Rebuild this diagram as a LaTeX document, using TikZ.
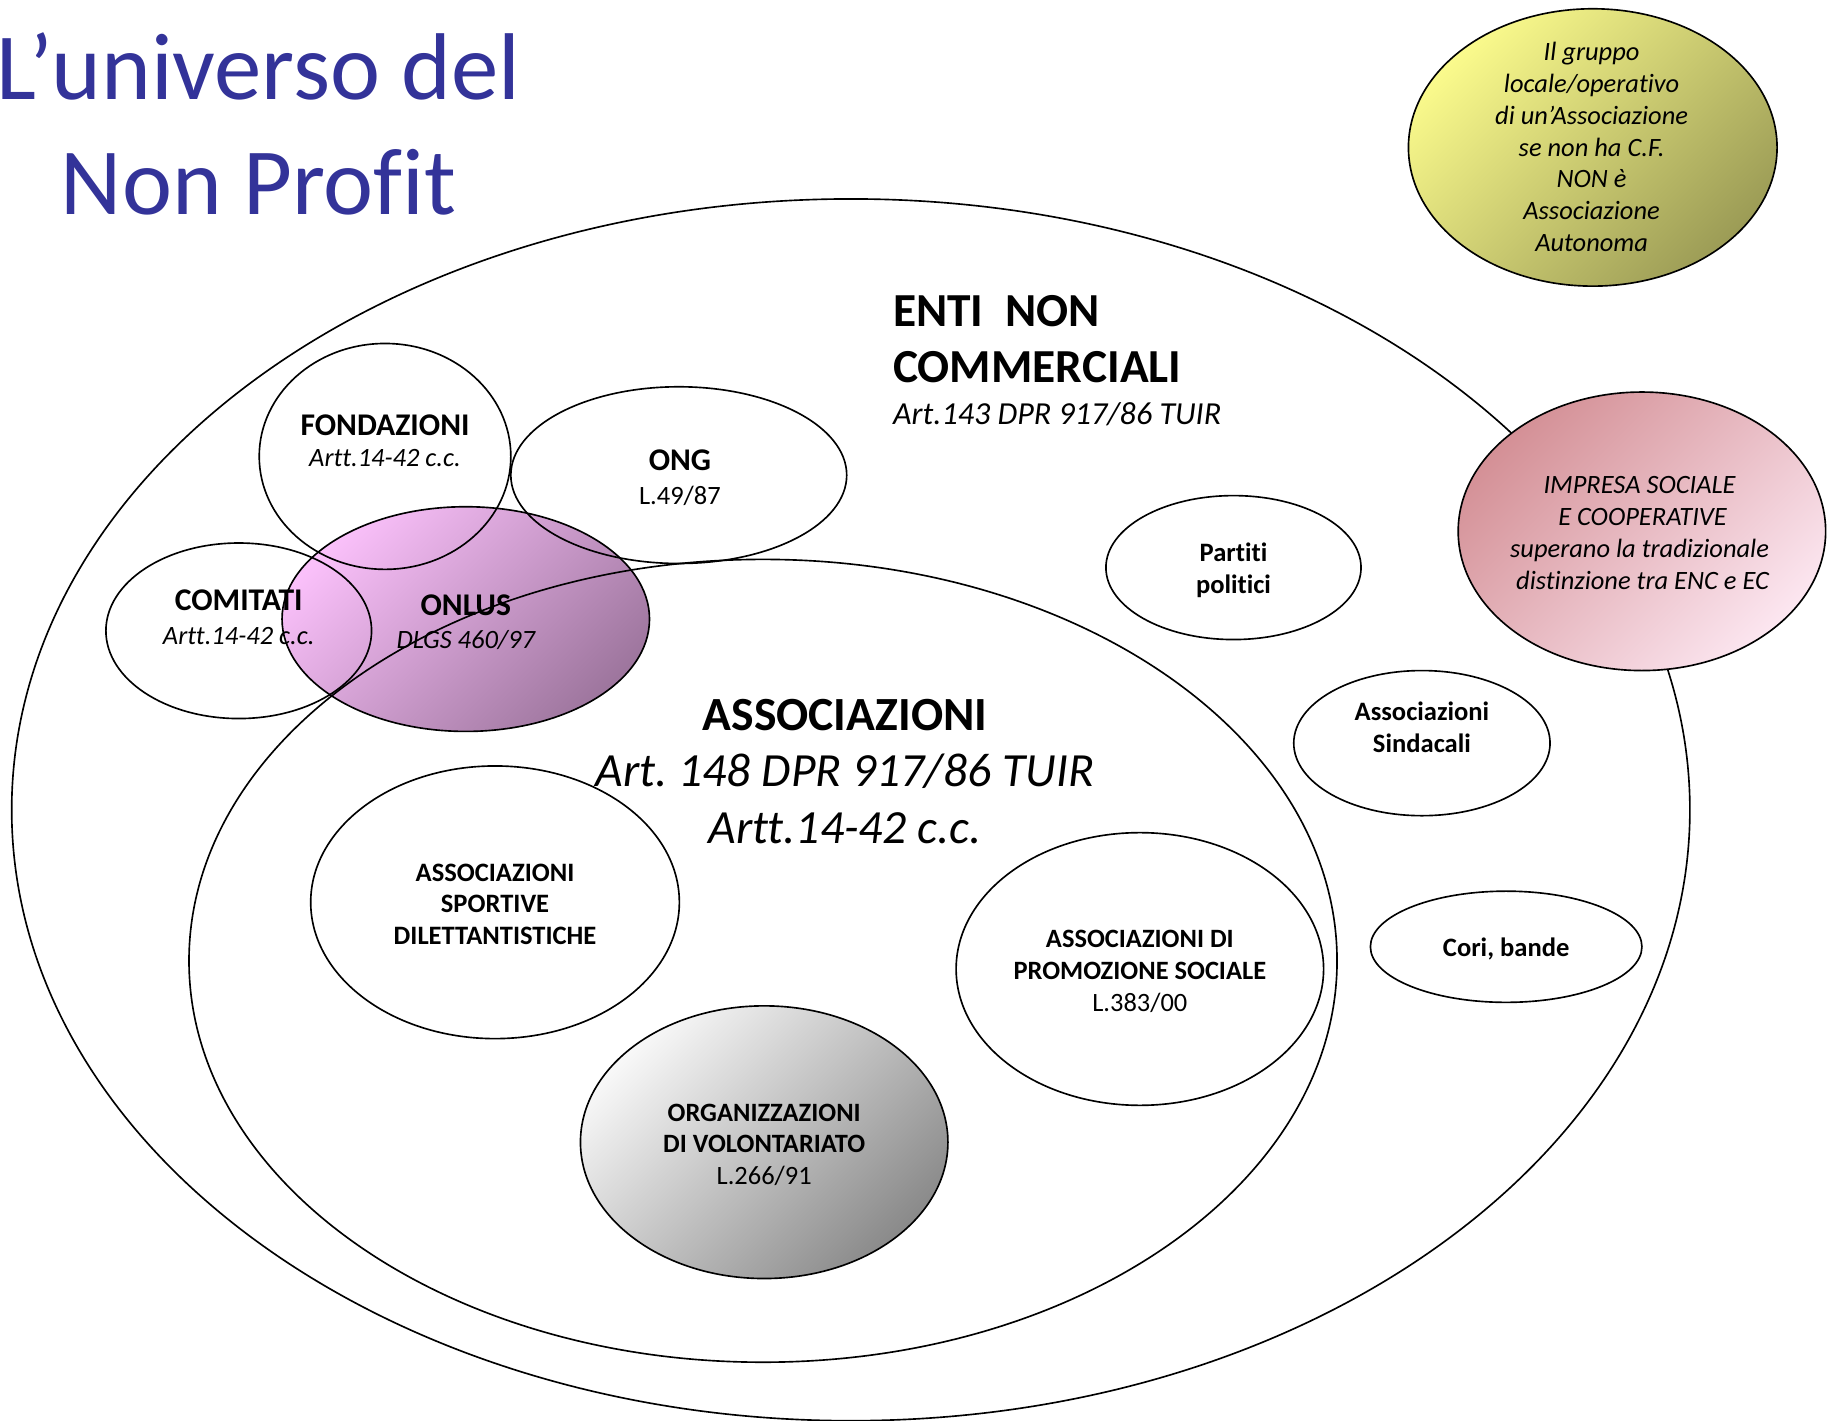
\documentclass[tikz,border=0pt]{standalone}
\usepackage{fontspec}
\setmainfont{Carlito}[Ligatures={NoCommon}]
\usetikzlibrary{shapes.geometric}
\definecolor{titleblue}{RGB}{51,51,153}
\definecolor{onlusA}{RGB}{250,192,250}
\definecolor{onlusB}{RGB}{158,118,158}
\definecolor{impA}{RGB}{212,144,150}
\definecolor{impB}{RGB}{252,230,240}
\definecolor{yelA}{RGB}{250,250,140}
\definecolor{yelB}{RGB}{156,156,86}
\definecolor{grayA}{RGB}{248,248,248}
\definecolor{grayB}{RGB}{138,138,138}
\frenchspacing
\begin{document}
\begin{tikzpicture}[x=1pt,y=-1pt,
  oval/.style={ellipse, inner sep=0pt, outer sep=0pt, line width=1.4pt},
  ringline/.style={oval, draw=black},
  bigbold/.style={font=\fontsize{40.5}{49}\selectfont\bfseries, inner sep=0pt, anchor=base west},
  bigital/.style={font=\fontsize{27.4}{33}\selectfont\itshape, inner sep=0pt, anchor=base west},
  assoctext/.style={font=\fontsize{40.7}{48}\selectfont, inner sep=0pt, anchor=base},
  lab/.style={font=\fontsize{22.6}{27}\selectfont, align=center, inner sep=0pt, anchor=base},
  labbold/.style={lab, font=\fontsize{22.7}{27}\selectfont\bfseries},
  labhead/.style={font=\fontsize{27}{27}\selectfont\bfseries, inner sep=0pt, anchor=base},
  labsub/.style={font=\fontsize{22.6}{27}\selectfont, inner sep=0pt, anchor=base},
  titletext/.style={font=\fontsize{81}{98}\selectfont, text=titleblue, inner sep=0pt, anchor=base}
]
\useasboundingbox (0,0) rectangle (1568,1214);
\fill[white] (0,0) rectangle (1568,1214);

% ONLUS fill (below outlines)
\node[oval, minimum width=314pt, minimum height=192pt, top color=onlusA, bottom color=onlusB, shading angle=45] (onlusfill) at (398,529) {};

% outlines
\node[ringline, minimum width=1434pt, minimum height=1044pt] (enc) at (727,692) {};
\node[ringline, minimum width=981pt, minimum height=686pt] (assoc) at (652,821) {};
\node[ringline, minimum width=215pt, minimum height=193pt] (fond) at (329,390) {};
\node[ringline, minimum width=287pt, minimum height=151pt] (ong) at (580,406) {};
\node[ringline, minimum width=227pt, minimum height=150pt] (comit) at (204,539) {};
\node[ringline, minimum width=314pt, minimum height=192pt] (onlus) at (398,529) {};
\node[ringline, minimum width=218pt, minimum height=123pt] (partiti) at (1054,485) {};
\node[ringline, minimum width=219pt, minimum height=124pt] (sind) at (1215,635) {};
\node[ringline, minimum width=232pt, minimum height=95pt] (cori) at (1287,809) {};
\node[ringline, minimum width=315pt, minimum height=233pt] (sport) at (423,771) {};
\node[ringline, minimum width=314pt, minimum height=233pt] (promo) at (974,828) {};

% filled ellipses on top
\node[oval, draw=black, minimum width=314pt, minimum height=233pt, top color=grayA, bottom color=grayB, shading angle=45] (volont) at (653,976) {};
\node[oval, draw=black, minimum width=314pt, minimum height=238pt, top color=impA, bottom color=impB, shading angle=45] (impresa) at (1403,454) {};
\node[oval, draw=black, minimum width=315pt, minimum height=237pt, top color=yelA, bottom color=yelB, shading angle=45] (gruppo) at (1361,126) {};

% title
\node[titletext] (title1) at (221,85) {L’universo del};
\node[titletext] (title2) at (221,183) {Non Profit};

% ENTI NON COMMERCIALI
\node[bigbold] (enc1) at (763,279) {ENTI\ \ NON};
\node[bigbold] (enc2) at (763,327) {COMMERCIALI};
\node[bigital] (enc3) at (763,363) {Art.143 DPR 917/86 TUIR};

% ASSOCIAZIONI
\node[assoctext, font=\fontsize{40.7}{48}\selectfont\bfseries] (as1) at (722,624) {ASSOCIAZIONI};
\node[assoctext, font=\fontsize{40.7}{48}\selectfont\itshape] (as2) at (722,672) {Art. 148 DPR 917/86 TUIR};
\node[assoctext, font=\fontsize{40.7}{48}\selectfont\itshape] (as3) at (722,721) {Artt.14-42 c.c.};

% labels of the small ellipses
\node[labhead] (fondt) at (329,372) {FONDAZIONI};
\node[labsub, font=\fontsize{22.6}{27}\selectfont\itshape] (fonds) at (329,399) {Artt.14-42 c.c.};
\node[labhead] (ongt) at (581,402) {ONG};
\node[labsub] (ongs) at (581,431) {L.49/87};
\node[labhead] (comitt) at (204,522) {COMITATI};
\node[labsub, font=\fontsize{22.6}{27}\selectfont\itshape] (comits) at (204,551) {Artt.14-42 c.c.};
\node[labhead] (onlust) at (398,526) {ONLUS};
\node[labsub, font=\fontsize{22.6}{27}\selectfont\itshape] (onluss) at (398,554) {DLGS 460/97};

\node[labbold] (partitit) at (1054,507) {Partiti\\politici};
\node[labbold] (sindt) at (1215,643) {Associazioni\\Sindacali};
\node[labbold] (corit) at (1287,817) {Cori, bande};
\node[labbold] (sportt) at (423,807) {ASSOCIAZIONI\\SPORTIVE\\DILETTANTISTICHE};
\node[lab] (promot) at (974,864) {\textbf{ASSOCIAZIONI DI}\\\textbf{PROMOZIONE SOCIALE}\\L.383/00};
\node[lab] (volontt) at (653,1012) {\textbf{ORGANIZZAZIONI}\\\textbf{DI VOLONTARIATO}\\L.266/91};
\node[lab, font=\fontsize{22.6}{27.3}\selectfont\itshape] (impresat) at (1401,504) {IMPRESA SOCIALE\\\ E COOPERATIVE\\superano la tradizionale\\\ distinzione tra ENC e EC};
\node[lab, font=\fontsize{22.6}{27.2}\selectfont\itshape] (gruppot) at (1360,215) {Il gruppo\\locale/operativo\\di un’Associazione\\se non ha C.F.\\NON è\\Associazione\\Autonoma};
\end{tikzpicture}
\end{document}
